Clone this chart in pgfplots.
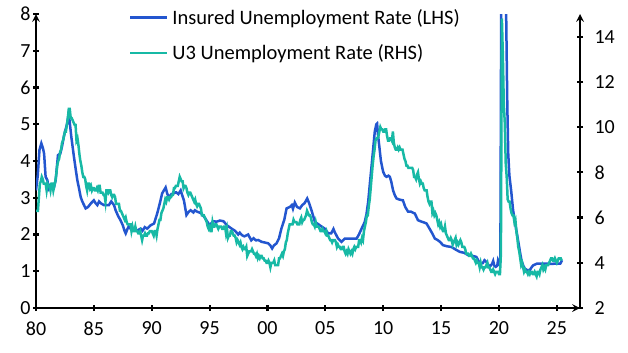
\documentclass[border=0pt]{standalone}
\usepackage{fontspec}
\setmainfont{Carlito}
\usepackage{pgfplots}
\usepackage{pgfplotstable}
\pgfplotsset{compat=1.18}
\definecolor{iurblue}{HTML}{2356CF}
\definecolor{uteal}{HTML}{17B9A5}

\pgfplotstableread[row sep=\\]{
u\\
6.3\\6.3\\6.3\\6.9\\7.5\\7.6\\7.8\\7.7\\7.5\\7.5\\7.5\\7.2\\
7.5\\7.4\\7.4\\7.2\\7.5\\7.5\\7.2\\7.4\\7.6\\7.9\\8.3\\8.5\\
8.6\\8.9\\9.0\\9.3\\9.4\\9.6\\9.8\\9.8\\10.1\\10.4\\10.8\\10.8\\
10.4\\10.4\\10.3\\10.2\\10.1\\10.1\\9.4\\9.5\\9.2\\8.8\\8.5\\8.3\\
8.0\\7.8\\7.8\\7.7\\7.4\\7.2\\7.5\\7.5\\7.3\\7.4\\7.2\\7.3\\
7.3\\7.2\\7.2\\7.3\\7.2\\7.4\\7.4\\7.1\\7.1\\7.1\\7.0\\7.0\\
6.7\\7.2\\7.2\\7.1\\7.2\\7.2\\7.0\\6.9\\7.0\\7.0\\6.9\\6.6\\
6.6\\6.6\\6.6\\6.3\\6.3\\6.2\\6.1\\6.0\\5.9\\6.0\\5.8\\5.7\\
5.7\\5.7\\5.7\\5.4\\5.6\\5.4\\5.4\\5.6\\5.4\\5.4\\5.3\\5.3\\
5.4\\5.2\\5.0\\5.2\\5.2\\5.3\\5.2\\5.2\\5.3\\5.3\\5.4\\5.4\\
5.4\\5.3\\5.2\\5.4\\5.4\\5.2\\5.5\\5.7\\5.9\\5.9\\6.2\\6.3\\
6.4\\6.6\\6.8\\6.7\\6.9\\6.9\\6.8\\6.9\\6.9\\7.0\\7.0\\7.3\\
7.3\\7.4\\7.4\\7.4\\7.6\\7.8\\7.7\\7.6\\7.6\\7.3\\7.4\\7.4\\
7.3\\7.1\\7.0\\7.1\\7.1\\7.0\\6.9\\6.8\\6.7\\6.8\\6.6\\6.5\\
6.6\\6.6\\6.5\\6.4\\6.1\\6.1\\6.1\\6.0\\5.9\\5.8\\5.6\\5.5\\
5.6\\5.4\\5.4\\5.8\\5.6\\5.6\\5.7\\5.7\\5.6\\5.5\\5.6\\5.6\\
5.6\\5.5\\5.5\\5.6\\5.6\\5.3\\5.5\\5.1\\5.2\\5.2\\5.4\\5.4\\
5.3\\5.2\\5.2\\5.1\\4.9\\5.0\\4.9\\4.8\\4.9\\4.7\\4.6\\4.7\\
4.6\\4.6\\4.7\\4.3\\4.4\\4.5\\4.5\\4.5\\4.6\\4.5\\4.4\\4.4\\
4.3\\4.4\\4.2\\4.3\\4.2\\4.3\\4.3\\4.2\\4.2\\4.1\\4.1\\4.0\\
4.0\\4.1\\4.0\\3.8\\4.0\\4.0\\4.0\\4.1\\3.9\\3.9\\3.9\\3.9\\
4.2\\4.2\\4.3\\4.4\\4.3\\4.5\\4.6\\4.9\\5.0\\5.3\\5.5\\5.7\\
5.7\\5.7\\5.7\\5.9\\5.8\\5.8\\5.8\\5.7\\5.7\\5.7\\5.9\\6.0\\
5.8\\5.9\\5.9\\6.0\\6.1\\6.3\\6.2\\6.1\\6.1\\6.0\\5.8\\5.7\\
5.7\\5.6\\5.8\\5.6\\5.6\\5.6\\5.5\\5.4\\5.4\\5.5\\5.4\\5.4\\
5.3\\5.4\\5.2\\5.2\\5.1\\5.0\\5.0\\4.9\\5.0\\5.0\\5.0\\4.9\\
4.7\\4.8\\4.7\\4.7\\4.6\\4.6\\4.7\\4.7\\4.5\\4.4\\4.5\\4.4\\
4.6\\4.5\\4.4\\4.5\\4.4\\4.6\\4.7\\4.6\\4.7\\4.7\\4.7\\5.0\\
5.0\\4.9\\5.1\\5.0\\5.4\\5.6\\5.8\\6.1\\6.1\\6.5\\6.8\\7.3\\
7.8\\8.3\\8.7\\9.0\\9.4\\9.5\\9.5\\9.6\\9.8\\10.0\\9.9\\9.9\\
9.8\\9.8\\9.9\\9.9\\9.6\\9.4\\9.4\\9.5\\9.5\\9.4\\9.8\\9.3\\
9.1\\9.0\\9.0\\9.1\\9.0\\9.1\\9.0\\9.0\\9.0\\8.8\\8.6\\8.5\\
8.3\\8.3\\8.2\\8.2\\8.2\\8.2\\8.2\\8.1\\7.8\\7.8\\7.7\\7.9\\
8.0\\7.7\\7.5\\7.6\\7.5\\7.5\\7.3\\7.2\\7.2\\7.2\\6.9\\6.7\\
6.6\\6.7\\6.7\\6.2\\6.3\\6.1\\6.2\\6.1\\5.9\\5.7\\5.8\\5.6\\
5.7\\5.5\\5.4\\5.4\\5.6\\5.3\\5.2\\5.1\\5.0\\5.0\\5.1\\5.0\\
4.8\\4.9\\5.0\\5.1\\4.8\\4.9\\4.8\\4.9\\5.0\\4.9\\4.7\\4.7\\
4.7\\4.6\\4.4\\4.4\\4.4\\4.3\\4.3\\4.4\\4.3\\4.2\\4.2\\4.1\\
4.0\\4.1\\4.0\\4.0\\3.8\\4.0\\3.8\\3.8\\3.7\\3.8\\3.8\\3.9\\
4.0\\3.8\\3.8\\3.7\\3.6\\3.6\\3.7\\3.6\\3.5\\3.6\\3.6\\3.6\\
3.5\\3.5\\4.4\\14.8\\13.2\\11.0\\10.2\\8.4\\7.8\\6.8\\6.7\\6.7\\
6.4\\6.2\\6.1\\6.1\\5.8\\5.9\\5.4\\5.1\\4.7\\4.5\\4.2\\3.9\\
4.0\\3.8\\3.6\\3.7\\3.6\\3.6\\3.5\\3.6\\3.5\\3.6\\3.6\\3.5\\
3.5\\3.6\\3.5\\3.4\\3.6\\3.6\\3.5\\3.7\\3.8\\3.9\\3.7\\3.8\\
3.7\\3.9\\3.9\\3.9\\4.0\\4.1\\4.2\\4.2\\4.1\\4.1\\4.2\\4.1\\
4.0\\4.1\\4.2\\4.2\\4.2\\4.1\\
}\uthree

\pgfplotsset{
  common/.style={
    scale only axis, width=544pt, height=294pt,
    xmin=1980, xmax=2027,
    axis line style={-, line width=2.4pt, black},
    every tick/.style={black, line width=2.2pt},
    major tick length=6pt, tick align=outside,
    tick label style={font=\fontsize{20}{22}\selectfont},
    /pgf/number format/assume math mode=true,
  }
}

\begin{document}
\begin{tikzpicture}
\begin{axis}[common, name=left,
  axis x line=bottom, axis y line=left,
  ymin=0, ymax=8, ytick={0,1,...,8},
  xtick={1980,1985,...,2025},
  xticklabels={80,85,90,95,00,05,10,15,20,25},
  yticklabel style={xshift=1pt},
  xticklabel style={yshift=-7pt},
]
\addplot[iurblue, line width=2.5pt] coordinates {
(1980.00,3.2)(1980.15,3.6)(1980.30,4.3)(1980.46,4.48)(1980.6,4.35)(1980.7,4.2)
(1980.83,3.57)(1980.98,3.48)(1981.1,3.26)(1981.25,3.35)(1981.4,3.3)(1981.55,3.28)
(1981.7,3.48)(1981.9,4.16)(1982.1,4.2)(1982.25,4.4)(1982.4,4.66)(1982.55,4.85)
(1982.7,5.03)(1982.8,5.25)(1982.9,5.1)(1983.05,4.66)(1983.28,4.11)(1983.42,3.8)
(1983.57,3.48)(1983.72,3.25)(1983.86,3.02)(1984.0,2.9)(1984.15,2.8)(1984.29,2.71)
(1984.5,2.75)(1984.75,2.85)(1985.0,2.93)(1985.15,2.85)(1985.3,2.8)(1985.45,2.9)
(1985.6,2.85)(1985.87,2.8)(1986.1,2.8)(1986.3,2.8)(1986.5,2.9)(1986.74,2.8)
(1986.88,2.66)(1987.1,2.5)(1987.3,2.39)(1987.5,2.25)(1987.65,2.1)(1987.75,2.03)
(1987.9,2.15)(1988.0,2.21)(1988.2,2.15)(1988.46,2.12)(1988.7,2.1)(1989.04,2.16)
(1989.2,2.1)(1989.4,2.2)(1989.6,2.16)(1989.9,2.25)(1990.2,2.3)(1990.47,2.57)
(1990.7,2.85)(1990.9,3.12)(1991.2,3.28)(1991.35,3.1)(1991.5,3.02)(1991.7,3.1)
(1991.9,3.12)(1992.1,3.15)(1992.3,3.1)(1992.5,3.2)(1992.65,3.05)(1992.78,2.93)
(1993.0,2.53)(1993.2,2.62)(1993.36,2.66)(1993.6,2.6)(1993.73,2.66)(1993.93,2.62)
(1994.1,2.6)(1994.3,2.57)(1994.6,2.45)(1994.8,2.35)(1995.0,2.25)(1995.3,2.36)
(1995.6,2.35)(1995.9,2.38)(1996.2,2.36)(1996.5,2.25)(1996.9,2.16)(1997.2,2.1)
(1997.47,2.0)(1997.6,2.05)(1997.8,1.98)(1998.0,1.95)(1998.33,2.0)(1998.6,1.84)
(1998.8,1.9)(1999.0,1.84)(1999.2,1.85)(1999.5,1.8)(1999.8,1.78)(2000.06,1.76)
(2000.25,1.7)(2000.4,1.62)(2000.55,1.7)(2000.78,1.76)(2001.0,1.9)(2001.2,2.16)
(2001.45,2.4)(2001.65,2.71)(2001.93,2.75)(2002.1,2.8)(2002.2,2.7)(2002.36,2.87)
(2002.55,2.75)(2002.8,2.71)(2003.0,2.8)(2003.2,2.85)(2003.43,2.98)(2003.6,2.85)
(2003.8,2.66)(2004.1,2.34)(2004.3,2.3)(2004.52,2.25)(2004.75,2.2)(2004.95,2.16)
(2005.24,2.03)(2005.5,2.03)(2005.7,2.15)(2005.8,2.07)(2006.0,1.95)(2006.1,1.89)
(2006.4,1.80)(2006.68,1.89)(2007.0,1.89)(2007.7,1.89)(2007.9,2.0)(2008.13,2.16)
(2008.4,2.34)(2008.55,2.55)(2008.7,2.89)(2008.85,3.4)(2009.0,3.89)(2009.15,4.4)
(2009.27,4.8)(2009.4,5.0)(2009.47,5.02)(2009.55,4.7)(2009.65,4.43)(2009.8,4.0)
(2009.99,3.71)(2010.15,3.6)(2010.28,3.57)(2010.45,3.6)(2010.57,3.57)(2010.7,3.43)
(2010.85,3.2)(2011.0,3.07)(2011.15,2.98)(2011.4,2.95)(2011.7,2.93)(2011.9,2.75)
(2012.15,2.62)(2012.4,2.62)(2012.73,2.57)(2013.0,2.39)(2013.3,2.35)(2013.5,2.33)
(2013.74,2.3)(2014.0,2.16)(2014.2,2.05)(2014.46,1.89)(2014.7,1.85)(2014.9,1.8)
(2015.17,1.71)(2015.5,1.68)(2015.9,1.66)(2016.2,1.6)(2016.6,1.53)(2017.0,1.5)
(2017.33,1.44)(2017.7,1.42)(2018.05,1.39)(2018.2,1.3)(2018.34,1.21)(2018.6,1.22)
(2018.75,1.3)(2018.92,1.25)(2019.2,1.12)(2019.4,1.2)(2019.5,1.28)(2019.6,1.15)
(2019.72,1.12)(2019.85,1.15)(2019.92,1.3)(2020.05,1.2)(2020.12,1.25)(2020.20,9.0)
(2020.25,14.0)(2020.33,15.6)(2020.42,13.0)(2020.5,11.0)(2020.58,9.0)(2020.62,8.0)
(2020.72,5.5)(2020.8,4.2)(2020.9,3.6)(2021.05,3.2)(2021.22,2.66)(2021.4,2.3)
(2021.65,1.84)(2021.8,1.55)(2021.94,1.3)(2022.1,1.15)(2022.23,1.07)(2022.45,1.03)
(2022.66,1.03)(2022.8,1.1)(2022.95,1.16)(2023.3,1.21)(2024.0,1.21)(2024.5,1.2)
(2025.0,1.21)(2025.3,1.21)(2025.45,1.3)
};
\end{axis}
\begin{axis}[common,
  axis x line=none, axis y line=right,
  ymin=2, ymax=15, ytick={2,4,...,14},
  yticklabel style={xshift=8pt},
  legend style={at={(rel axis cs:0.165,1.03)}, anchor=north west,
    draw=none, fill=none, font=\fontsize{20.5}{23}\selectfont,
    row sep=15pt, legend cell align=left,
    nodes={inner xsep=4pt}},
  legend image code/.code={\draw[#1] (0pt,0pt) -- (37pt,0pt);},
]
\addlegendimage{iurblue, line width=2.5pt}
\addlegendentry{Insured Unemployment Rate (LHS)}
\addplot[uteal, line width=2.5pt] table[x expr=1980+\coordindex/12, y=u] {\uthree};
\addlegendentry{U3 Unemployment Rate (RHS)}
\end{axis}
\pgfresetboundingbox
\path ([xshift=-36pt,yshift=-44pt]left.south west) rectangle ([xshift=48pt,yshift=14pt]left.north east);
\end{tikzpicture}
\end{document}
